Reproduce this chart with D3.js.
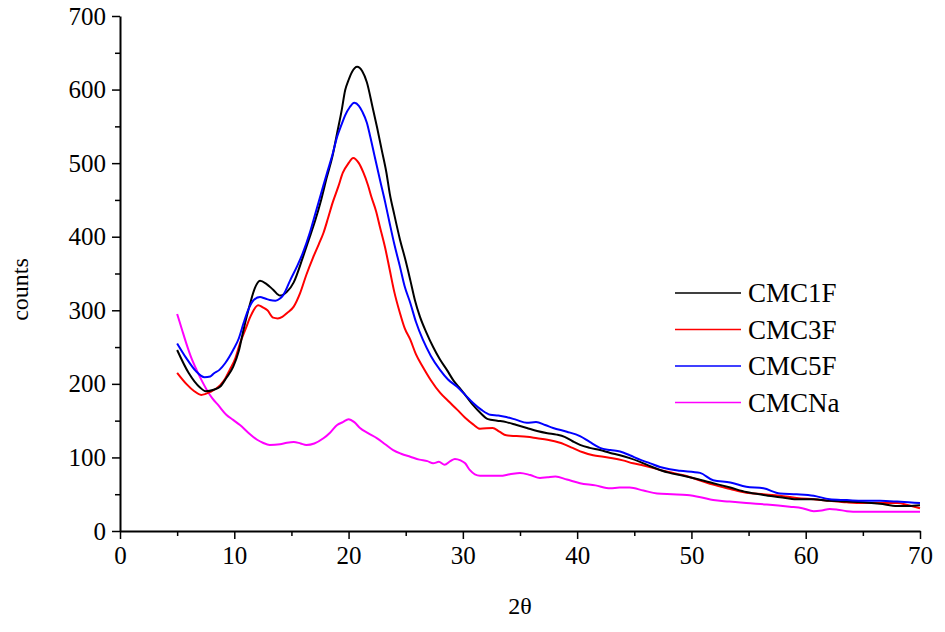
<!DOCTYPE html>
<html lang="en">
<head>
<meta charset="utf-8" />
<title>XRD counts</title>
<script src="https://d3js.org/d3.v7.min.js"></script>
<style>
  body { margin: 0; background: #fff; }
  .axis path, .axis line { stroke: #000; }
</style>
</head>
<body>
<svg width="945" height="632"></svg>
<script>
// series: [2theta, counts]
var cmc1f = [[5,246],[6,215],[7,195],[7.5,190],[8.2,192],[8.75,196],[9.3,208],[9.9,223],[10.4,245],[10.8,273],[11.4,310],[11.8,330],[12.25,340],[12.8,336],[13.4,328],[14,320],[14.6,325],[15.2,338],[16,372],[16.5,395],[17.1,423],[17.6,450],[18.1,481],[18.6,510],[19,541],[19.4,572],[19.7,599],[20,613],[20.3,624],[20.75,631],[21.2,625],[21.6,610],[22.1,576],[22.5,548],[22.9,518],[23.3,488],[23.6,459],[24,430],[24.5,396],[25,367],[25.4,341],[25.8,314],[26.25,291],[26.8,270],[27.4,250],[28,233],[28.6,219],[29.2,204],[29.8,193],[30.3,183],[30.9,171],[31.5,161],[32.2,152],[33,150],[33.8,148],[34.7,144],[35.6,140],[36.5,136],[37.4,133],[38.2,131],[38.9,128],[39.6,122],[40.25,117],[41.1,113],[42,110],[42.9,106],[43.75,103],[44.6,99],[45.5,94],[46.4,88],[47.25,83],[48.1,79],[49,76],[50.4,71],[51.9,65],[53.4,59],[54.8,53],[56.3,49],[57.75,46],[59.2,43],[60.7,43],[62.1,41],[63.6,40],[65,39],[66.5,37],[68,34],[69,34],[70,35]];
var cmc3f = [[5,215],[5.8,200],[6.5,190],[7.1,185],[7.9,189],[8.75,198],[9.2,207],[9.6,219],[10.1,235],[10.5,255],[11,275],[11.4,291],[12.1,307],[12.5,304],[12.9,300],[13.4,290],[13.8,289],[14.2,291],[14.6,296],[15.2,305],[15.75,323],[16.3,348],[16.9,372],[17.4,390],[17.8,405],[18.2,425],[18.6,446],[19.1,468],[19.5,487],[20,500],[20.4,507],[20.9,500],[21.3,487],[21.7,470],[22,454],[22.4,435],[22.75,413],[23.2,385],[23.6,355],[24,325],[24.5,296],[24.9,276],[25.4,260],[25.9,240],[26.5,223],[27.2,205],[28,188],[28.7,177],[29.5,165],[30.2,154],[30.9,145],[31.5,139],[32.6,140],[33.2,135],[33.8,130],[34.7,129],[35.6,128],[36.5,126],[37.4,124],[38.5,120],[39.6,113],[40.5,107],[41.4,103],[42.3,101],[43.1,99],[44,96],[44.9,92],[45.8,89],[46.6,86],[47.5,82],[48.4,79],[49.2,76],[49.9,73],[50.9,68],[51.9,63],[53.4,57],[54.8,52],[56.3,50],[57.75,48],[59.2,45],[60.7,43],[62.1,41],[63.6,39],[65,38],[66.5,38],[68,38],[69,35],[70,31]];
var cmc5f = [[5,255],[5.8,235],[6.6,218],[7.4,209],[7.9,210],[8.2,214],[8.7,219],[9.2,228],[9.9,246],[10.4,262],[10.8,282],[11.2,300],[11.7,314],[12.25,318],[12.7,316],[13.1,314],[13.6,313],[14,316],[14.3,321],[14.9,341],[15.5,360],[16,378],[16.6,405],[17.1,432],[17.6,459],[18.1,486],[18.6,512],[19,536],[19.4,553],[19.7,565],[20.1,576],[20.5,582],[20.9,578],[21.2,570],[21.6,555],[21.9,536],[22.3,508],[22.75,477],[23.2,447],[23.6,418],[24,390],[24.5,359],[24.9,333],[25.4,310],[25.9,284],[26.5,260],[27.2,238],[28,219],[28.7,206],[29.5,196],[30.2,185],[30.9,174],[31.6,165],[32.4,158],[33.1,157],[33.8,155],[34.7,151],[35.6,147],[36.4,148],[37.2,144],[37.9,140],[39.1,135],[40.25,129],[41.1,121],[42,113],[42.9,110],[43.75,108],[44.6,103],[45.5,97],[46.4,92],[47.25,87],[48.1,84],[49,82],[50.75,79],[51.9,69],[53.4,66],[54.8,60],[56.3,58],[57.75,51],[59.2,50],[60.7,48],[62.1,43],[63.6,42],[65,41],[66.5,41],[68,40],[69,39],[70,38]];
var cmcna = [[5,295],[5.4,275],[5.8,255],[6.2,237],[6.7,219],[7.2,203],[7.7,189],[8.1,180],[8.6,171],[9.3,158],[9.9,151],[10.5,144],[11.2,134],[12,124],[12.5,120],[13.1,117],[14,118],[14.6,120],[15.2,121],[15.8,119],[16.3,117],[17,119],[17.8,126],[18.4,134],[19,144],[19.5,148],[20,152],[20.5,148],[21,140],[21.7,133],[22.5,126],[23.2,118],[23.9,110],[24.6,105],[25.4,101],[26.2,97],[26.9,95],[27.4,92],[27.9,94],[28.4,90],[28.9,95],[29.3,98],[29.8,96],[30.2,92],[30.6,83],[31.5,75],[32.4,75],[33.25,75],[34.1,77],[35,79],[35.9,76],[36.75,72],[37.4,73],[38.1,74],[39.1,70],[40.25,65],[41.6,62],[42.9,58],[43.7,59],[44.6,59],[45.8,55],[47,51],[48.3,50],[49.6,49],[50.8,46],[51.9,42],[53.3,40],[54.8,38],[56.6,36],[58.6,33],[59.7,31],[60.7,27],[61.4,28],[62.1,30],[62.8,29],[63.6,27],[64.7,26],[65.9,26],[68,26],[70,26]];

var seriesNames = ["CMC1F", "CMC3F", "CMC5F", "CMCNa"];
var seriesColors = ["#000000", "#ff0000", "#0000ff", "#ff00ff"];
var seriesData = [cmc1f, cmc3f, cmc5f, cmcna];

var xMajor = [0, 10, 20, 30, 40, 50, 60, 70];
var xMinor = [5, 15, 25, 35, 45, 55, 65];
var yMajor = [0, 100, 200, 300, 400, 500, 600, 700];
var yMinor = [50, 150, 250, 350, 450, 550, 650];

var serif = "'Liberation Serif'";

var svg = d3.select("svg"),
    margin = {top: 16, right: 25, bottom: 101, left: 120},
    width = 800,
    height = 515;

var x = d3.scaleLinear().domain([0, 70]).range([0, width]);
var y = d3.scaleLinear().domain([0, 700]).range([height, 0]);

var g = svg.append("g")
    .attr("transform", "translate(" + margin.left + "," + margin.top + ")");

// minor ticks first, then major axes on top
g.append("g")
    .attr("class", "axis")
    .attr("transform", "translate(0," + height + ")")
    .call(d3.axisBottom(x).tickValues(xMinor).tickSize(5).tickFormat(""))
    .call(function(s) { s.select(".domain").remove(); s.selectAll("line").attr("stroke-width", 1.5); });

g.append("g")
    .attr("class", "axis")
    .call(d3.axisLeft(y).tickValues(yMinor).tickSize(5).tickFormat(""))
    .call(function(s) { s.select(".domain").remove(); s.selectAll("line").attr("stroke-width", 1.5); });

var line = d3.line()
    .curve(d3.curveMonotoneX)
    .x(function(d) { return x(d[0]); })
    .y(function(d) { return y(d[1]); });

// CMCNa drawn first so it sits under the others
[3, 1, 0, 2].forEach(function(i) {
  g.append("path")
      .datum(seriesData[i])
      .attr("fill", "none")
      .attr("stroke", seriesColors[i])
      .attr("stroke-width", 2)
      .attr("stroke-linejoin", "round")
      .attr("d", line);
});

var xAxis = g.append("g")
    .attr("class", "axis")
    .attr("transform", "translate(0," + height + ")")
    .call(d3.axisBottom(x).tickValues(xMajor).tickSize(8).tickSizeOuter(0).tickPadding(6));
xAxis.select(".domain").attr("stroke-width", 2);
xAxis.selectAll("line").attr("stroke-width", 1.5);
xAxis.selectAll("text")
    .attr("dy", "0.75em").attr("fill", "#000")
    .style("font-family", serif).style("font-size", "25px");

var yAxis = g.append("g")
    .attr("class", "axis")
    .call(d3.axisLeft(y).tickValues(yMajor).tickSize(8).tickSizeOuter(0).tickPadding(6));
yAxis.select(".domain").attr("stroke-width", 2);
yAxis.selectAll("line").attr("stroke-width", 1.5);
yAxis.selectAll("text")
    .attr("fill", "#000")
    .style("font-family", serif).style("font-size", "25px");

svg.append("text")
    .attr("transform", "translate(28," + (margin.top + height / 2 + 16) + ") rotate(-90)")
    .attr("text-anchor", "middle")
    .style("font-family", serif)
    .style("font-size", "24px")
    .text("counts");

svg.append("text")
    .attr("x", margin.left + width / 2)
    .attr("y", 614)
    .attr("text-anchor", "middle")
    .style("font-family", serif)
    .style("font-size", "24px")
    .text("2θ");

var legend = svg.append("g")
    .attr("transform", "translate(675,293)");

seriesNames.forEach(function(name, i) {
  var row = legend.append("g").attr("transform", "translate(0," + (i * 36.5) + ")");
  row.append("line")
      .attr("x1", 0).attr("x2", 66)
      .attr("stroke", seriesColors[i])
      .attr("stroke-width", 1.5);
  row.append("text")
      .attr("x", 73)
      .attr("dy", "0.35em")
      .style("font-family", serif)
      .style("font-size", "27px")
      .text(name);
});
</script>
</body>
</html>
